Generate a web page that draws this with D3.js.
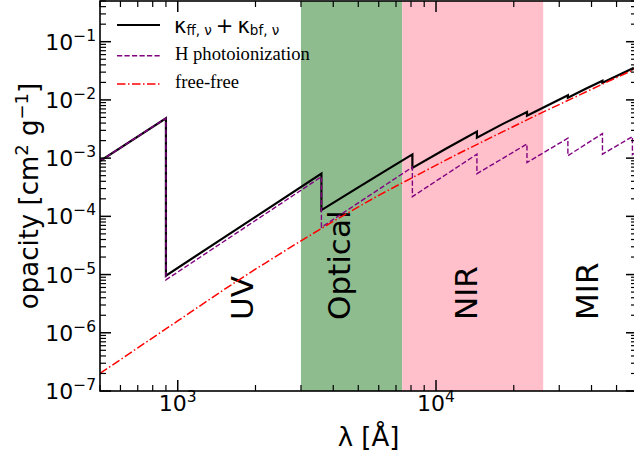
<!DOCTYPE html>
<html><head><meta charset="utf-8">
<script src="https://cdn.jsdelivr.net/npm/d3@7"></script>
<style>body{margin:0;background:#fff}svg{display:block}text{font-family:"DejaVu Sans",sans-serif;fill:#000}</style>
</head><body><svg id="c" width="634" height="457"></svg>
<script>
// ---- data ----
const totalLambda = [500, 900, 900, 2000, 3600, 3600, 5000, 6500, 8100, 8100, 11000, 14400, 14400, 18000, 22500, 22500, 27000, 32400, 32400, 38000, 44100, 44100, 51000, 57600, 57600, 60000];
const totalKappa  = [8.9e-4, 4.85e-3, 9.6e-6, 9.8e-5, 5.45e-4, 1.28e-4, 3.15e-4, 6.4e-4, 1.16e-3, 6.8e-4, 1.48e-3, 2.85e-3, 2.25e-3, 3.8e-3, 6.2e-3, 5.35e-3, 8.05e-3, 1.2e-2, 1.09e-2, 1.55e-2, 2.13e-2, 1.98e-2, 2.69e-2, 3.47e-2, 3.36e-2, 3.63e-2];
const photoLambda = [500, 900, 900, 3600, 3600, 8100, 8100, 14400, 14400, 22500, 22500, 32400, 32400, 44100, 44100, 57600, 57600, 60000];
const photoKappa  = [8.9e-4, 4.85e-3, 8.1e-6, 4.8e-4, 6.5e-5, 7.0e-4, 2.18e-4, 1.17e-3, 5.4e-4, 1.75e-3, 8.4e-4, 2.2e-3, 1.1e-3, 2.64e-3, 1.17e-3, 2.34e-3, 1.15e-3, 1.3e-3];
const ffLambda = [500, 700, 1000, 1500, 2000, 3000, 4000, 6000, 8000, 12000, 18000, 25000, 35000, 45000, 60000];
const ffKappa  = [2.0e-7, 5.5e-7, 1.6e-6, 5.4e-6, 1.24e-5, 3.8e-5, 8.2e-5, 2.3e-4, 4.5e-4, 1.15e-3, 2.8e-3, 5.7e-3, 1.15e-2, 1.95e-2, 3.5e-2];
const bandStart = [3000, 7400];
const bandEnd   = [7400, 26000];
const bandColors = ["#8fbc8f", "#ffc0cb"];
const regionLabels = ["UV", "Optical", "NIR", "MIR"];
const regionLabelLambda = [1950, 4650, 14400, 42400];
const xMajorTicks = [1e3, 1e4];
const xTickExp = ["3", "4"];
const yMajorTicks = [1e-7, 1e-6, 1e-5, 1e-4, 1e-3, 1e-2, 1e-1];
const yTickExp = ["\u22127", "\u22126", "\u22125", "\u22124", "\u22123", "\u22122", "\u22121"];

// ---- layout ----
const L = 100, R = 637, T = 1, B = 391;
const svg = d3.select("#c");
const x = d3.scaleLog().domain([500, 60000]).range([L, R]);
const y = d3.scaleLog().domain([1e-7, 0.5]).range([B, T]);

svg.append("defs").append("clipPath").attr("id", "clip")
  .append("rect").attr("x", L).attr("y", T).attr("width", R - L).attr("height", B - T);

// bands
const bands = svg.append("g");
bandStart.forEach((s, i) => {
  bands.append("rect").attr("x", x(s)).attr("y", T).attr("width", x(bandEnd[i]) - x(s))
    .attr("height", B - T).attr("fill", bandColors[i]);
});

// region labels
regionLabels.forEach((t, i) => {
  svg.append("text").attr("transform", `translate(${x(regionLabelLambda[i])},320) rotate(-90)`)
    .attr("font-size", 31).text(t);
});

// lines
const g = svg.append("g").attr("clip-path", "url(#clip)");
const line = d3.line().x(d => x(d[0])).y(d => y(d[1]));
g.append("path").datum(d3.zip(totalLambda, totalKappa)).attr("d", line)
  .attr("fill", "none").attr("stroke", "#000").attr("stroke-width", 2.2).attr("stroke-linejoin", "miter");
g.append("path").datum(d3.zip(photoLambda, photoKappa)).attr("d", line)
  .attr("fill", "none").attr("stroke", "#800080").attr("stroke-width", 1.4).attr("stroke-dasharray", "5.2,2.3");
g.append("path").datum(d3.zip(ffLambda, ffKappa)).attr("d", line)
  .attr("fill", "none").attr("stroke", "#ff0000").attr("stroke-width", 1.5).attr("stroke-dasharray", "8.5,2.5,1.5,2.5");

// ticks (inward, all sides)
const ax = svg.append("g").attr("stroke", "#000");
const isMajor = v => Math.abs(Math.log10(v) - Math.round(Math.log10(v))) < 1e-6;
x.ticks().forEach(v => {
  const px = x(v), len = isMajor(v) ? 11 : 6, w = isMajor(v) ? 1.5 : 1.2;
  if (px < L - 0.5 || px > R + 0.5) return;
  ax.append("line").attr("x1", px).attr("x2", px).attr("y1", B).attr("y2", B - len).attr("stroke-width", w);
  ax.append("line").attr("x1", px).attr("x2", px).attr("y1", T).attr("y2", T + len).attr("stroke-width", w);
});
y.ticks().forEach(v => {
  const py = y(v), len = isMajor(v) ? 11 : 6, w = isMajor(v) ? 1.5 : 1.2;
  ax.append("line").attr("y1", py).attr("y2", py).attr("x1", L).attr("x2", L + len).attr("stroke-width", w);
  ax.append("line").attr("y1", py).attr("y2", py).attr("x1", R).attr("x2", R - len).attr("stroke-width", w);
});
// spines
svg.append("rect").attr("x", L).attr("y", T).attr("width", R - L).attr("height", B - T)
  .attr("fill", "none").attr("stroke", "#000").attr("stroke-width", 1.6);

// tick labels
xMajorTicks.forEach((v, i) => {
  const t = svg.append("text").attr("x", x(v)).attr("y", 411).attr("text-anchor", "middle").attr("font-size", 22);
  t.append("tspan").text("10");
  t.append("tspan").attr("font-size", 15.5).attr("dy", -9).text(xTickExp[i]);
});
yMajorTicks.forEach((v, i) => {
  const t = svg.append("text").attr("x", 96).attr("y", y(v) + 8).attr("text-anchor", "end").attr("font-size", 22);
  t.append("tspan").text("10");
  t.append("tspan").attr("font-size", 15.5).attr("dy", -9).text(yTickExp[i]);
});

// axis labels
const xl = svg.append("text").attr("x", (L + R) / 2).attr("y", 446).attr("text-anchor", "middle").attr("font-size", 26);
xl.text("\u03bb [\u00c5]");
const yl = svg.append("text").attr("transform", `translate(38,${(T + B) / 2}) rotate(-90)`)
  .attr("text-anchor", "middle").attr("font-size", 26);
yl.append("tspan").text("opacity [cm");
yl.append("tspan").attr("font-size", 18).attr("dy", -10).text("2");
yl.append("tspan").attr("dy", 10).text(" g");
yl.append("tspan").attr("font-size", 18).attr("dy", -10).text("\u22121");
yl.append("tspan").attr("dy", 10).text("]");

// legend
const lg = svg.append("g");
lg.append("line").attr("x1", 117).attr("x2", 160).attr("y1", 25).attr("y2", 25).attr("stroke", "#000").attr("stroke-width", 2.2);
lg.append("line").attr("x1", 117).attr("x2", 160).attr("y1", 55.7).attr("y2", 55.7).attr("stroke", "#800080").attr("stroke-width", 1.4).attr("stroke-dasharray", "5.2,2.3");
lg.append("line").attr("x1", 117).attr("x2", 160).attr("y1", 84).attr("y2", 84).attr("stroke", "#ff0000").attr("stroke-width", 1.5).attr("stroke-dasharray", "8.5,2.5,1.5,2.5");
const t1 = lg.append("text").attr("x", 174).attr("y", 33).attr("font-size", 21);
t1.append("tspan").text("\u03ba");
t1.append("tspan").attr("dy", 2).attr("font-size", 13.5).text("ff, \u03bd");
t1.append("tspan").attr("dy", -2).attr("dx", 4).text("+");
t1.append("tspan").attr("dx", 4).text("\u03ba");
t1.append("tspan").attr("dy", 2).attr("font-size", 13.5).text("bf, \u03bd");
lg.append("text").attr("x", 175).attr("y", 60).attr("font-size", 18.6)
  .style("font-family", "'Liberation Serif','Times New Roman',serif").text("H photoionization");
lg.append("text").attr("x", 175).attr("y", 88.3).attr("font-size", 18.6)
  .style("font-family", "'Liberation Serif','Times New Roman',serif").text("free-free");
</script></body></html>
